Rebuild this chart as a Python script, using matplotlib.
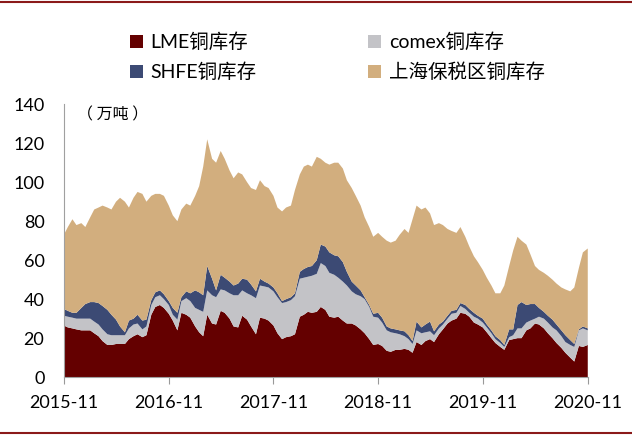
import numpy as np
import pandas as pd
import matplotlib
matplotlib.use('Agg')
import matplotlib.pyplot as plt
import matplotlib.dates as mdates
from matplotlib.lines import Line2D

plt.rcParams['font.family'] = ['Lato', 'Noto Sans CJK SC', 'DejaVu Sans']

# semi-monthly observations, 2015-11 .. 2020-11 (unit: 10k tonnes)
dates = pd.date_range('2015-11-01', periods=121, freq='SMS')

lme = [26.5, 25.5, 25, 24.5, 24, 24, 24, 22.5, 21, 18.5, 16.5, 16.5, 17, 17, 17, 19.5,
       21, 22, 20.5, 21.5, 32, 36, 37, 35.5, 32.5, 29, 24, 33, 32, 30.5, 26, 23,
       21, 32, 27.5, 27, 34, 33, 30, 26, 25.5, 31.5, 29.5, 26, 22, 30.5, 30, 29,
       26.5, 22.5, 19.5, 20.5, 21, 22, 31, 32, 33.5, 33, 33.5, 36, 34.5, 31, 30.5, 31,
       29, 27.5, 27.5, 26.5, 24.5, 22.5, 19.5, 16.5, 17, 16, 13.5, 13, 14, 14, 14.5, 14,
       12.5, 18, 16.5, 18.5, 19.5, 18, 22, 24.5, 27.5, 29, 30, 33, 32.5, 31, 28, 27,
       25.5, 23, 20, 17.5, 15.5, 14, 19, 19.5, 20, 20, 24, 25, 27.5, 27, 25, 22.5,
       20, 17.5, 15, 12.5, 10, 8, 16, 15.5, 16.5]

comex = [5, 5.5, 5.5, 5.5, 6, 6, 6, 6, 6, 6, 5.5, 5, 4.5, 4.5, 4.5, 5.5,
         6, 5.5, 4, 4.5, 5, 5, 5, 4.5, 4.5, 3, 5.5, 6, 8.5, 8.5, 9.5, 11.5,
         12.5, 12.5, 14.5, 14, 11, 11.5, 13, 16, 16.5, 13, 13.5, 16, 18.5, 16.5, 16.5, 17,
         17.5, 18.5, 18.5, 18, 18.5, 19.5, 19.5, 19, 18, 19, 19.5, 22.5, 22.5, 22.5, 22, 20,
         20, 19.5, 16.5, 16, 17, 17.5, 16.5, 14.5, 13.5, 12, 10.5, 10, 8.5, 8, 6.5, 5.5,
         4.5, 6, 6, 4.5, 4, 3.5, 3, 2.5, 2.5, 3.5, 3, 3.5, 2.5, 2, 3, 3,
         2.5, 2.5, 2.5, 2, 2, 1.5, 1.5, 2, 5, 5, 4, 4, 2.5, 4, 5, 5.5,
         5.5, 6.5, 6, 5.5, 6.5, 7.5, 8, 9.5, 7.5]

shfe = [3.5, 3, 2.5, 3, 5.5, 7.5, 8.5, 10, 11, 12, 12.5, 10.5, 8, 4.5, 1.5, 4,
        3, 4.5, 4.5, 3.5, 2.5, 2.5, 2.5, 2.5, 2, 3.5, 3.5, 2, 3.5, 4, 9, 9,
        8.5, 12.5, 8.5, 3.5, 7.5, 6.5, 6, 5, 6, 6, 7, 5.5, 3.5, 3.5, 2.5, 2,
        2, 2, 1, 1.5, 1.5, 1.5, 3.5, 4.5, 5, 5, 7, 9.5, 10, 10.5, 10, 11,
        10, 7, 5, 4.5, 3, 1, 1, 1.5, 2.5, 2.5, 2, 2, 2, 2, 2.5, 2,
        1.5, 4.5, 3, 4, 5, 2, 2, 1.5, 1.5, 1.5, 1.5, 1.5, 2, 2, 2, 1.5,
        2, 1.5, 1.5, 1.5, 1.5, 1, 4, 3, 12, 13.5, 9, 8.5, 7.5, 4.5, 3.5, 3.5,
        4, 3, 3, 3.5, 2.5, 1.5, 0.5, 1, 1]

bonded = [38, 43, 48, 45, 43.5, 39.5, 43.5, 47.5, 49, 51.5, 52.5, 54, 60.5, 66, 67, 58,
          62, 63, 65, 60.5, 53.5, 50.5, 49.5, 50.5, 49, 47.5, 47, 45, 45, 45, 48.5, 54.5,
          66, 65, 61.5, 65.5, 63.5, 61, 57, 55, 57, 53.5, 50, 49.5, 52, 50.5, 49, 49,
          47, 44, 46, 47, 47, 53, 50, 52.5, 52.5, 51, 53, 44, 43, 45, 47.5, 48,
          48, 47, 48, 46, 43.5, 41, 40, 39.5, 41, 41.5, 44, 44, 45.5, 49, 52.5, 52.5,
          62.5, 59.5, 60.5, 60, 55.5, 54.5, 52, 49.5, 44.5, 41, 39.5, 39, 35, 32, 29, 27.5,
          25, 24, 23, 22, 24, 30.5, 32.5, 40.5, 35, 31.5, 31, 25.5, 19.5, 19.5, 20, 20.5,
          20.5, 21, 22, 23.5, 25, 29, 31.5, 38, 41]

labels = ['LME铜库存', 'comex铜库存', 'SHFE铜库存', '上海保税区铜库存']
colors = ['#640000', '#c3c3c7', '#3c4a74', '#d2ae7e']

fig = plt.figure(figsize=(6.32, 4.36), dpi=100)
ax = fig.add_axes([0.101, 0.135, 0.829, 0.626])

polys = ax.stackplot(dates, lme, comex, shfe, bonded, colors=colors, linewidth=0)

ax.set_xlim(dates[0], dates[-1])
ax.set_ylim(0, 140)
ax.set_yticks(np.arange(0, 141, 20))
ticks = pd.date_range('2015-11-01', '2020-11-01', freq='12MS')
ax.set_xticks(ticks)
ax.xaxis.set_major_formatter(mdates.DateFormatter('%Y-%m'))
ax.tick_params(axis='x', length=5, color='#999999', labelsize=13, pad=8)
ax.tick_params(axis='y', length=0, labelsize=13, pad=14)

for s in ['top', 'right']:
    ax.spines[s].set_visible(False)
for s in ['left', 'bottom']:
    ax.spines[s].set_color('#a0a0a0')

ax.text(0.025, 0.99, '（ 万吨 ）', transform=ax.transAxes, fontsize=11.5,
        va='top', ha='left', family=['Noto Sans CJK SC'])

# legend: column-wise fill gives LME/comex on row 1, SHFE/bonded on row 2
order = [0, 2, 1, 3]
handles = [polys[i] for i in order]
fig.legend(handles, [labels[i] for i in order], ncol=2, loc='upper left',
           bbox_to_anchor=(0.178, 0.966), frameon=False, fontsize=14,
           handlelength=0.65, handleheight=0.65, handletextpad=0.4,
           columnspacing=5.75, labelspacing=0.6, borderpad=0.4)

# dark red rules at top and bottom of the figure
fig.add_artist(Line2D([0, 1], [0.995, 0.995], color='#8b1a1a', lw=1.5))
fig.add_artist(Line2D([0, 1], [0.008, 0.008], color='#8b1a1a', lw=1.5))

fig.savefig('out.png', dpi=100)
